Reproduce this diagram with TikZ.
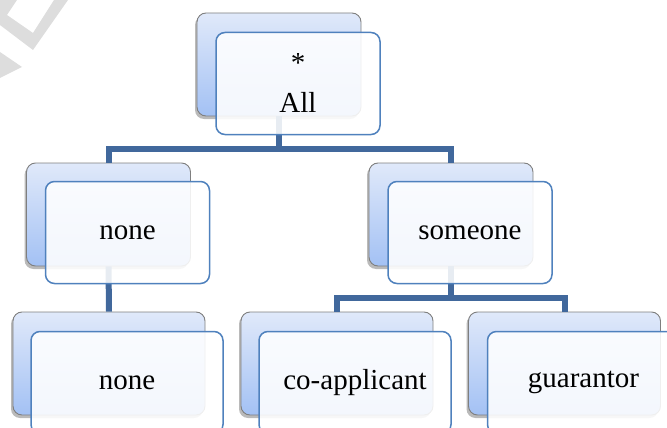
\documentclass[tikz,border=0pt]{standalone}
\usepackage{fontspec}
\setmainfont{Liberation Serif}
\usetikzlibrary{shadows}
\definecolor{linkblue}{HTML}{41689C}
\definecolor{frontedge}{HTML}{4F81BD}
\definecolor{backtop}{HTML}{E0E9FA}
\definecolor{backbot}{HTML}{A3C1F4}
\definecolor{backedge}{HTML}{7F7F7F}
\definecolor{markgray}{HTML}{DDDDDD}
\begin{document}
\begin{tikzpicture}[x=1pt,y=-1pt,
  backcard/.style={rounded corners=9pt, draw=backedge, line width=0.9pt,
    top color=backtop, bottom color=backbot,
    drop shadow={shadow xshift=-2pt, shadow yshift=-3pt, opacity=0.45, fill=black!60},
    minimum height=103pt, inner sep=0pt},
  frontcard/.style={rounded corners=9pt, draw=frontedge, line width=1.5pt,
    fill=white, fill opacity=0.88, text opacity=1,
    minimum height=102pt, inner sep=0pt, align=center,
    font=\fontsize{29}{35}\selectfont},
  widecard/.style={minimum width=192pt},
  narrowcard/.style={minimum width=164pt},
  link/.style={draw=linkblue, line width=6pt}
]
\useasboundingbox (0,0) rectangle (667,428);
\clip (0,0) rectangle (667,428);

% watermark fragments in the corner
\fill[markgray] (0,0) -- (17,0) -- (7,15) -- (33,33) -- (54,0) -- (68,0) -- (33,50) -- (0,25) -- cycle;
\fill[markgray] (0,52) -- (22,67) -- (0,78) -- cycle;

% back cards
\node[backcard,narrowcard] (allB)   at (279,64.5)    {};
\node[backcard,narrowcard] (noneB)  at (108.5,214.5) {};
\node[backcard,narrowcard] (someB)  at (451,214.5)   {};
\node[backcard,widecard]   (none2B) at (109,363.5)   {};
\node[backcard,widecard]   (coB)    at (337,363.5)   {};
\node[backcard,widecard]   (guB)    at (564.5,363.5) {};

% tree connectors
\draw[link] (allB.south) -- ++(0,33) -| (noneB.north);
\draw[link] (allB.south) -- ++(0,33) -| (someB.north);
\draw[link] (noneB.south) -- (none2B.north);
\draw[link] (someB.south) -- ++(0,32) -| (coB.north);
\draw[link] (someB.south) -- ++(0,32) -| (guB.north);

% front cards with labels
\node[frontcard,narrowcard,font=\fontsize{29}{40}\selectfont] (allF) at ([shift={(19,19)}]allB.center) {*\\All};
\node[frontcard,narrowcard] (noneF)  at ([shift={(19,18)}]noneB.center)  {none};
\node[frontcard,narrowcard] (someF)  at ([shift={(19,18)}]someB.center)  {someone};
\node[frontcard,widecard]   (none2F) at ([shift={(18,19)}]none2B.center) {none};
\node[frontcard,widecard]   (coF)    at ([shift={(18,19)}]coB.center)    {co-applicant};
\node[frontcard,widecard]   (guF)    at ([shift={(19,19)}]guB.center)    {guarantor};
\end{tikzpicture}
\end{document}
